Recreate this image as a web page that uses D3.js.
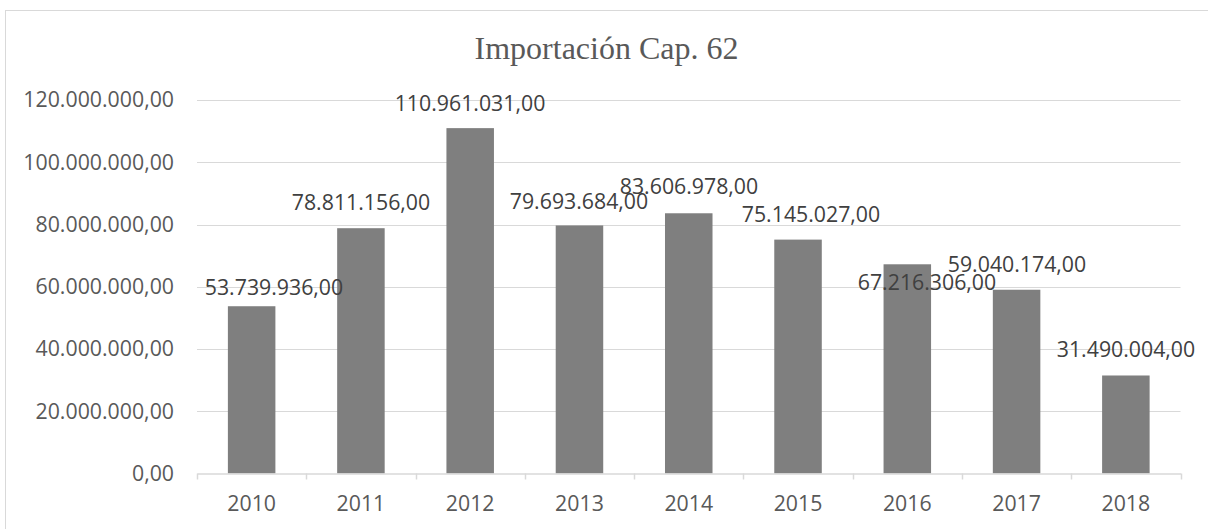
<!DOCTYPE html>
<html>
<head>
<meta charset="utf-8">
<script src="https://cdn.jsdelivr.net/npm/d3@7/dist/d3.min.js"></script>
<style>
  html, body { margin: 0; padding: 0; background: #fff; }
  svg { display: block; }
</style>
</head>
<body>
<svg id="chart" width="1208" height="529"></svg>
<script>
// ---- data ----
const categories = ["2010", "2011", "2012", "2013", "2014", "2015", "2016", "2017", "2018"];
const values = [53739936, 78811156, 110961031, 79693684, 83606978, 75145027, 67216306, 59040174, 31490004];
const yTicks = [0, 20000000, 40000000, 60000000, 80000000, 100000000, 120000000];
const title = "Importación Cap. 62";

// ---- layout ----
const svg = d3.select("#chart");
const margin = { left: 197, right: 1180.5, top: 100, bottom: 473.5 };
const FONT = "'Open Sans', sans-serif";
const FS = 21.3;
const fmt = v => {
  const s = d3.format(",.2f")(v); // 1,234.00
  return s.replace(/,/g, "#").replace(".", ",").replace(/#/g, ".");
};

svg.append("rect")
  .attr("x", 5.5).attr("y", 10.5)
  .attr("width", 1220).attr("height", 540)
  .attr("fill", "#fff").attr("stroke", "#d9d9d9").attr("stroke-width", 1);

const x = d3.scaleBand().domain(categories).range([margin.left, margin.right]).paddingInner(1.3 / 2.3).paddingOuter(1.3 / 2.3 / 2);
const xb = d3.scaleBand().domain(categories).range([margin.left, margin.right]);
const y = d3.scaleLinear().domain([0, 120000000]).range([margin.bottom, margin.top]);

// gridlines
svg.append("g").selectAll("line").data(yTicks.filter(t => t > 0)).join("line")
  .attr("x1", margin.left).attr("x2", margin.right)
  .attr("y1", d => Math.round(y(d)) + 0.5).attr("y2", d => Math.round(y(d)) + 0.5)
  .attr("stroke", "#d9d9d9").attr("stroke-width", 1);

// y labels
svg.append("g").selectAll("text").data(yTicks).join("text")
  .attr("x", 174).attr("y", d => y(d))
  .attr("dy", "0.35em")
  .attr("text-anchor", "end")
  .attr("font-family", FONT)
  .attr("font-size", FS)
  .attr("fill", "#595959")
  .text(d => fmt(d));

// bars
svg.append("g").selectAll("rect").data(values).join("rect")
  .attr("x", (d, i) => x(categories[i]))
  .attr("width", x.bandwidth())
  .attr("y", d => y(d))
  .attr("height", d => y(0) - y(d))
  .attr("fill", "#7f7f7f");

// x axis
const xAxis = d3.axisBottom(xb).tickSize(0).tickSizeOuter(0);
const gx = svg.append("g").attr("transform", `translate(0,${margin.bottom})`).call(xAxis);
gx.select(".domain").attr("stroke", "#d9d9d9").attr("stroke-width", 1.5);
gx.selectAll(".tick text")
  .attr("dy", 0).attr("y", 37)
  .attr("font-family", FONT)
  .attr("font-size", FS)
  .attr("fill", "#595959");
// category separator ticks
const bounds = categories.map(c => xb(c)).concat([margin.right]);
svg.append("g").selectAll("line").data(bounds).join("line")
  .attr("x1", d => Math.round(d) + 0.5).attr("x2", d => Math.round(d) + 0.5)
  .attr("y1", margin.bottom).attr("y2", margin.bottom + 6)
  .attr("stroke", "#d9d9d9").attr("stroke-width", 1.5);

// data labels (manually placed in the reference; centers read from it)
const labelCx = [274, 361, 470, 579, 689, 811, 927, 1017, 1126];
const labelCy = [288, 203, 104, 202, 187, 215, 283, 265, 350];
svg.append("g").selectAll("text").data(values).join("text")
  .attr("x", (d, i) => labelCx[i])
  .attr("y", (d, i) => labelCy[i])
  .attr("dy", "0.35em")
  .attr("text-anchor", "middle")
  .attr("font-family", FONT)
  .attr("font-size", FS)
  .attr("fill", "#404040")
  .text(d => fmt(d));

// title
svg.append("text")
  .attr("x", 606.5).attr("y", 59)
  .attr("text-anchor", "middle")
  .attr("font-family", "'Liberation Serif', 'Times New Roman', serif")
  .attr("font-size", 32)
  .attr("fill", "#595959")
  .text(title);
</script>
</body>
</html>
